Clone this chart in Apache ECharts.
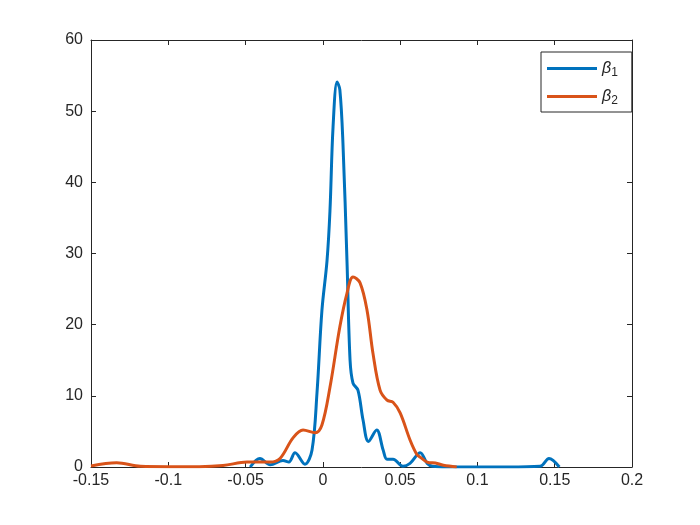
<!DOCTYPE html>
<html><head><meta charset="utf-8">
<script src="https://cdn.jsdelivr.net/npm/echarts@6/dist/echarts.min.js"></script>
<style>html,body{margin:0;padding:0;background:#fff}#c{width:700px;height:525px}</style>
</head><body><div id="c"></div>
<script>
var xTicks = [-0.15, -0.1, -0.05, 0, 0.05, 0.1, 0.15, 0.2];
var yTicks = [0, 10, 20, 30, 40, 50, 60];
var seriesNames = ['β1', 'β2'];

var b1x = [-0.047,-0.0407,-0.034,-0.0258,-0.022,-0.018,-0.0116,-0.007,-0.0038,-0.0006,0.0027,0.0046,0.0066,0.0092,0.011,0.013,0.0156,0.0176,0.0195,0.0227,0.026,0.0295,0.0348,0.039,0.0415,0.0454,0.0518,0.0564,0.063,0.0675,0.071,0.08,0.1,0.12,0.1405,0.1463,0.153];
var b1y = [0,1.2,0.3,0.9,0.7,2.0,0.4,2.4,10.4,22,29,36,47.8,54.1,53,45.5,29,15,11.8,10.8,6.6,3.6,5.2,2.4,1.1,1.1,0.1,0.5,2.0,0.5,0.1,0,0,0,0.1,1.2,0];

var b2x = [-0.15,-0.1334,-0.118,-0.1,-0.08,-0.0646,-0.049,-0.034,-0.0277,-0.0193,-0.0128,-0.005,-0.0006,0.0046,0.011,0.0156,0.0195,0.024,0.0286,0.0324,0.037,0.0415,0.0454,0.05,0.0564,0.0607,0.0628,0.069,0.071,0.078,0.0866];
var b2y = [0.15,0.6,0.1,0.05,0.05,0.2,0.7,0.7,1.2,4.1,5.2,4.8,5.9,11.2,19.7,24.4,26.7,25.9,22,16,10.8,9.4,9.1,7.6,3.8,1.8,1.4,0.6,0.6,0.25,0];

function pairs(xs, ys){ return xs.map(function(x,i){ return [x, ys[i]]; }); }

var chart = echarts.init(document.getElementById('c'));
var txt = '#262626';
var font = 'Liberation Sans, Arial, Helvetica, sans-serif';
function axisBase(pos, showLabel, isX){
  var ticks = isX ? xTicks : yTicks;
  return {
    type:'value', position:pos,
    min: ticks[0], max: ticks[ticks.length-1], interval: ticks[1]-ticks[0],
    axisLine:{show:true, onZero:false, lineStyle:{color:txt, width:1}},
    axisTick:{show:true, inside:true, length:5, lineStyle:{color:txt}},
    axisLabel:{show:showLabel, color:txt, fontSize:16, fontFamily:font, margin: isX ? 6 : 8,
      formatter:function(v){ return String(Math.round(v*100)/100); }},
    splitLine:{show:false}
  };
}
chart.setOption({
  animation:false,
  backgroundColor:'#fff',
  grid:{left:91, right:68, top:40, bottom:58},
  xAxis:[axisBase('bottom', true, true), axisBase('top', false, true)],
  yAxis:[axisBase('left', true, false), axisBase('right', false, false)],
  legend:{
    left:541, top:52, orient:'vertical',
    backgroundColor:'#fff', borderColor:txt, borderWidth:1,
    padding:[6,14,5,6], itemGap:7,
    itemWidth:50, itemHeight:3, icon:'rect',
    data:seriesNames,
    formatter:function(n){ return '{b|β}{s|' + n.slice(1) + '}'; },
    textStyle:{color:txt, fontFamily:font, lineHeight:20,
      rich:{ b:{fontSize:16, fontStyle:'italic', fontFamily:font, color:txt, lineHeight:20},
             s:{fontSize:12, fontFamily:font, color:txt, padding:[9,0,0,0], lineHeight:20} } }
  },
  series:[
    {name:seriesNames[0], type:'line', data:pairs(b1x,b1y), smooth:0.35, showSymbol:false, symbol:'none',
     lineStyle:{color:'#0072BD', width:3}, itemStyle:{color:'#0072BD'}, z:3},
    {name:seriesNames[1], type:'line', data:pairs(b2x,b2y), smooth:0.35, showSymbol:false, symbol:'none',
     lineStyle:{color:'#D95319', width:3}, itemStyle:{color:'#D95319'}, z:4}
  ]
});
</script></body></html>
